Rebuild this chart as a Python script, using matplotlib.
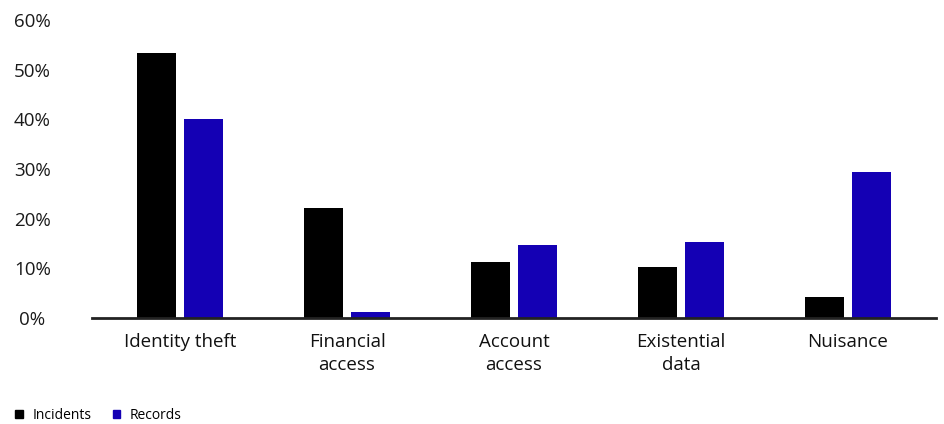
import matplotlib
matplotlib.use("Agg")
import matplotlib.pyplot as plt
import numpy as np
from matplotlib.patches import Patch

categories = ["Identity theft", "Financial\naccess", "Account\naccess", "Existential\ndata", "Nuisance"]
incidents = [53.3, 22.1, 11.2, 10.3, 4.3]
records = [40.1, 1.3, 14.6, 15.3, 29.3]
yticks = [0, 10, 20, 30, 40, 50, 60]
ytick_labels = ["0%", "10%", "20%", "30%", "40%", "50%", "60%"]
series_names = ["Incidents", "Records"]

INC_COLOR = "#000000"
REC_COLOR = "#1400B4"

plt.rcParams["font.family"] = ["Open Sans", "DejaVu Sans"]

fig = plt.figure(figsize=(9.44, 4.24), dpi=100)
ax = fig.add_axes([92 / 944, 106 / 424, 844 / 944, 298 / 424])

x = np.arange(len(categories))
w = 0.233
off = 0.141
ax.bar(x - off, incidents, width=w, color=INC_COLOR, zorder=2)
ax.bar(x + off, records, width=w, color=REC_COLOR, zorder=2)

ax.set_xlim(-0.527, len(categories) - 1 + 0.527)
ax.set_ylim(0, 60)

for s in ["top", "right", "left"]:
    ax.spines[s].set_visible(False)
ax.spines["bottom"].set_color("#222222")
ax.spines["bottom"].set_linewidth(2)
ax.spines["bottom"].set_zorder(3)

ax.set_yticks(yticks)
ax.set_yticklabels(ytick_labels, fontsize=13.5, color="#1a1a1a")
for lbl in ax.get_yticklabels():
    lbl.set_horizontalalignment("center")
ax.tick_params(axis="y", length=0, pad=43)

ax.set_xticks(x)
ax.set_xticklabels(categories, fontsize=13.5, color="#111111", linespacing=1.32)
ax.tick_params(axis="x", length=0, pad=11)

handles = [Patch(color=INC_COLOR), Patch(color=REC_COLOR)]
fig.legend(handles, series_names, loc="lower left", bbox_to_anchor=(0.003, -0.027),
           ncol=2, frameon=False, fontsize=10, handlelength=0.55, handleheight=0.6,
           handletextpad=0.7, columnspacing=1.5)

fig.savefig("out.png", dpi=100)
